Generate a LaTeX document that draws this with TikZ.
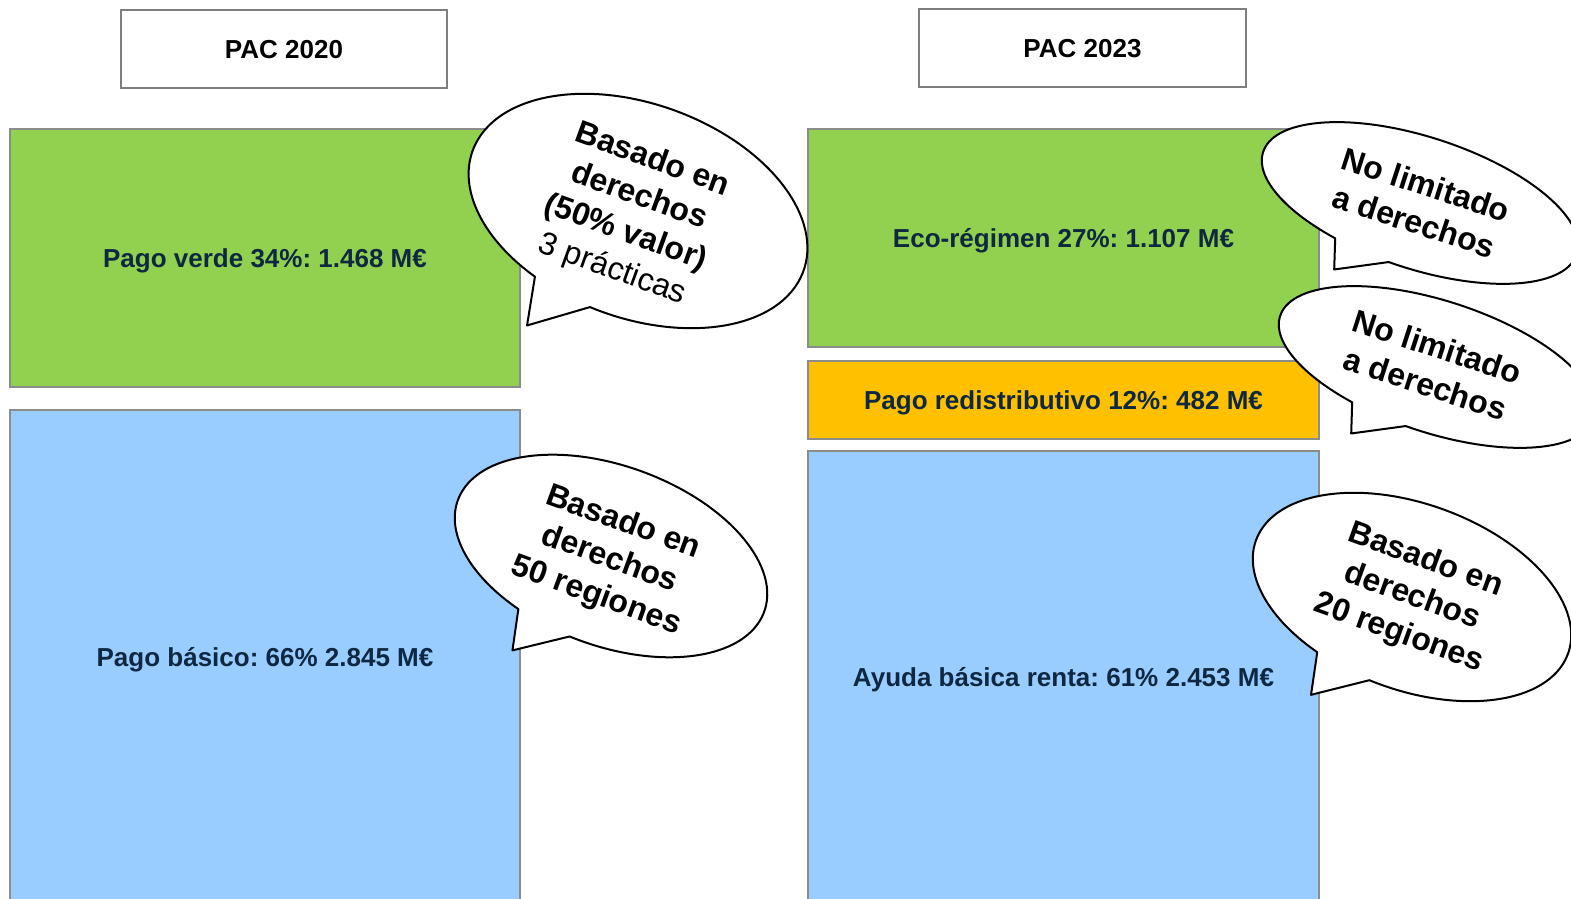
\documentclass[tikz,border=0pt]{standalone}
\usepackage{fontspec}
\setmainfont{Liberation Sans}
\frenchspacing
\definecolor{vgreen}{RGB}{146,208,80}
\definecolor{vblue}{RGB}{153,204,255}
\definecolor{vorange}{RGB}{255,192,0}
\definecolor{navy}{RGB}{14,40,65}
\definecolor{edgegray}{RGB}{140,140,140}
\tikzset{
  titlebox/.style={draw=edgegray!90!black, line width=0.75pt, fill=white, inner sep=0pt, outer sep=0pt,
    text height=9.4pt, text depth=0pt,
    font=\fontsize{13}{15.6}\selectfont\bfseries, text=black},
  payblock/.style={draw=edgegray, line width=1pt, inner sep=0pt, outer sep=0pt,
    text height=9.4pt, text depth=0pt,
    font=\fontsize{13}{15.6}\selectfont\bfseries, text=navy},
  bubbleline/.style={draw=black, line width=1pt, fill=white, line join=round},
  bubbletext/.style={align=center, inner sep=0pt, font=\fontsize{16}{19.5}\selectfont\bfseries, text=black}
}
\newcommand\mybubble[7]{%
  \begin{scope}[shift={#2}, rotate=#3]
    \draw[bubbleline] (266:#4 and #5) arc[start angle=266, end angle=605, x radius=#4, y radius=#5]
      -- ({-0.37*#4},{-1.36*#5}) coordinate (#1tip) -- cycle;
    \node[bubbletext, rotate=#3] (#1) at (#6) {#7};
  \end{scope}}
\begin{document}
\begin{tikzpicture}[x=0.5pt,y=0.5pt]
\useasboundingbox (0,0) rectangle (1571,899);
\fill[white] (0,0) rectangle (1571,899);
% titles
\node[titlebox, minimum width=163pt, minimum height=39pt] (t2020) at (284,850) {PAC 2020};
\node[titlebox, minimum width=163.5pt, minimum height=39pt] (t2023) at (1082.5,851) {PAC 2023};
% left column
\node[payblock, fill=vgreen, minimum width=255pt, minimum height=129pt] (verde) at (265,641) {Pago verde 34\%: 1.468 M€};
\node[payblock, fill=vblue, minimum width=255pt, minimum height=247pt] (basico) at (265,242) {Pago básico: 66\% 2.845 M€};
% right column
\node[payblock, fill=vgreen, minimum width=255.5pt, minimum height=109pt] (eco) at (1063.5,661) {Eco-régimen 27\%: 1.107 M€};
\node[payblock, fill=vorange, minimum width=255.5pt, minimum height=39pt] (redis) at (1063.5,499) {Pago redistributivo 12\%: 482 M€};
\node[payblock, fill=vblue, minimum width=255.5pt, minimum height=226.5pt] (renta) at (1063.5,221.5) {Ayuda básica renta: 61\% 2.453 M€};
% callouts
\mybubble{b1}{(638,688)}{-20}{176}{107}{-4,-6}{Basado en\\derechos\\(50\% valor)\\{\mdseries 3 prácticas}}
\mybubble{b2}{(611,343)}{-20}{163}{90}{0,-4}{Basado en\\derechos\\50 regiones}
\mybubble{b3}{(1420,696)}{-18}{165}{66}{0,0}{No limitado\\a derechos}
\mybubble{b4}{(1437,532)}{-18}{165}{66}{-6,0}{No limitado\\a derechos}
\mybubble{b5}{(1412,302)}{-20}{166}{93}{0,0}{Basado en\\derechos\\20 regiones}
\end{tikzpicture}
\end{document}
